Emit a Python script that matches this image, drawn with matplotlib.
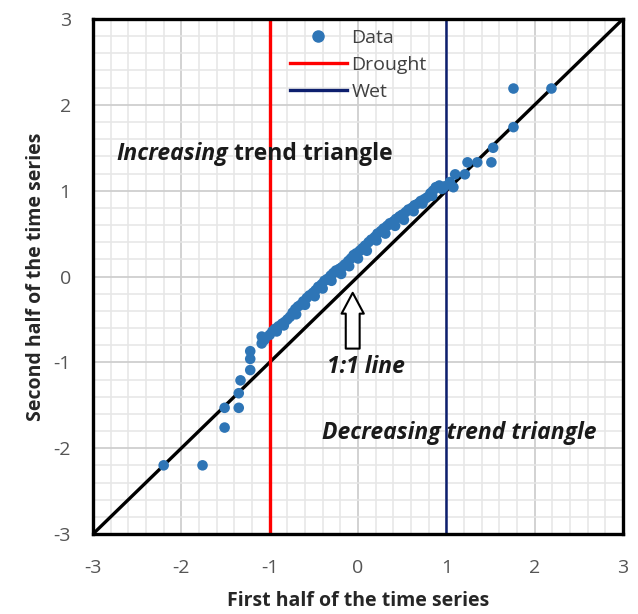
import matplotlib
matplotlib.use('Agg')
import matplotlib.pyplot as plt
from matplotlib.lines import Line2D
from matplotlib.ticker import MultipleLocator

plt.rcParams['font.family'] = ['Open Sans', 'DejaVu Sans']
plt.rcParams['axes.unicode_minus'] = False

# first half (x) vs second half (y) of the series
tail_low_x = [-2.20, -1.76, -1.51, -1.51, -1.35, -1.35, -1.33, -1.22, -1.22, -1.22, -1.09, -1.09, -1.06]
tail_low_y = [-2.20, -2.20, -1.76, -1.53, -1.53, -1.36, -1.21, -1.09, -0.96, -0.87, -0.78, -0.70, -0.74]

band_x = [-1.00, -0.97, -0.94, -0.90, -0.86, -0.83, -0.80, -0.77, -0.74, -0.71,
          -0.68, -0.65, -0.62, -0.58, -0.55, -0.51, -0.48, -0.45, -0.41, -0.38,
          -0.35, -0.31, -0.28, -0.25, -0.21, -0.18, -0.15, -0.11, -0.08, -0.05,
          -0.02, 0.02, 0.05, 0.08, 0.12, 0.15, 0.19, 0.22, 0.26, 0.29,
          0.33, 0.36, 0.40, 0.43, 0.47, 0.50, 0.54, 0.57, 0.61, 0.64,
          0.68, 0.71, 0.75, 0.78, 0.82, 0.85, 0.88, 0.92, 0.95]
band_y = [-0.68, -0.64, -0.61, -0.58, -0.55, -0.53, -0.50, -0.47, -0.42, -0.38,
          -0.35, -0.33, -0.29, -0.25, -0.22, -0.19, -0.16, -0.12, -0.09, -0.05,
          -0.03, 0.01, 0.04, 0.07, 0.09, 0.11, 0.14, 0.18, 0.21, 0.25,
          0.27, 0.30, 0.33, 0.36, 0.40, 0.43, 0.46, 0.50, 0.53, 0.56,
          0.59, 0.62, 0.64, 0.67, 0.70, 0.72, 0.75, 0.78, 0.80, 0.83,
          0.85, 0.88, 0.90, 0.92, 0.97, 1.00, 1.04, 1.06, 1.02]
# points on the lower edge of the band
edge_x = [-0.92, -0.84, -0.70, -0.60, -0.49, -0.40, -0.30, -0.19, -0.10, 0.00,
          0.10, 0.21, 0.31, 0.42, 0.52, 0.63, 0.73, 0.84]
edge_y = [-0.64, -0.57, -0.44, -0.33, -0.23, -0.14, -0.05, 0.03, 0.12, 0.21,
          0.30, 0.42, 0.50, 0.59, 0.66, 0.76, 0.85, 0.94]

tail_high_x = [0.98, 1.04, 1.08, 1.10, 1.21, 1.24, 1.35, 1.51, 1.53, 1.76, 1.76, 2.19]
tail_high_y = [1.05, 1.10, 1.04, 1.19, 1.19, 1.33, 1.33, 1.33, 1.50, 1.74, 2.19, 2.19]

data_x = tail_low_x + band_x + edge_x + tail_high_x
data_y = tail_low_y + band_y + edge_y + tail_high_y

drought_x = -1.0
wet_x = 1.0
ticks = [-3, -2, -1, 0, 1, 2, 3]

fig = plt.figure(figsize=(6.38, 6.14), dpi=100)
ax = fig.add_axes([93 / 638, 80 / 614, 530 / 638, 515 / 614])

ax.set_xlim(-3, 3)
ax.set_ylim(-3, 3)
ax.xaxis.set_minor_locator(MultipleLocator(0.2))
ax.yaxis.set_minor_locator(MultipleLocator(0.2))
ax.grid(which='major', color='#cfcfcf', lw=1.3)
ax.grid(which='minor', color='#e6e6e6', lw=1.1)
ax.set_axisbelow(True)
ax.set_xticks(ticks)
ax.set_yticks(ticks)
ax.tick_params(which='both', length=0, labelsize=14, labelcolor='#555555')
ax.tick_params(axis='x', pad=18)
ax.tick_params(axis='y', pad=16)
for s in ax.spines.values():
    s.set_linewidth(2.4)
    s.set_color('black')

# 1:1 line
ax.plot([-3, 3], [-3, 3], color='black', lw=2.4, zorder=2)
ax.axvline(drought_x, color='#ff0000', lw=2.4, zorder=2)
ax.axvline(wet_x, color='#0d1f6e', lw=1.8, zorder=2)

ax.scatter(data_x, data_y, s=58, color='#2e75b6', edgecolors='none', zorder=3)

fs = 16.5
t1 = ax.text(-2.73, 1.43, 'Increasing', fontsize=fs, fontweight='bold', style='italic',
             color='#1a1a1a', va='center')
ax.annotate(' trend triangle', xy=(1, 0.5), xycoords=t1, fontsize=fs,
            fontweight='bold', color='#1a1a1a', va='center')
ax.text(-0.41, -1.82, 'Decreasing trend triangle', fontsize=fs, fontweight='bold',
        style='italic', color='#1a1a1a', va='center')
ax.text(-0.35, -1.06, '1:1 line', fontsize=fs, fontweight='bold', style='italic',
        color='#1a1a1a', va='center')
ax.annotate('', xy=(-0.06, -0.19), xytext=(-0.06, -0.84),
            arrowprops=dict(arrowstyle='simple,head_width=1.6,head_length=1.5,tail_width=1.0',
                            fc='white', ec='black', lw=1.5, mutation_scale=10,
                            shrinkA=0, shrinkB=0))

handles = [
    Line2D([], [], marker='o', ls='none', color='#2e75b6', markersize=8),
    Line2D([], [], color='#ff0000', lw=2.4),
    Line2D([], [], color='#0d1f6e', lw=2.4),
]
ax.legend(handles, ['Data', 'Drought', 'Wet'], loc='upper left',
          bbox_to_anchor=(0.372, 0.98), frameon=False, fontsize=14,
          handlelength=2.9, handletextpad=0.25, labelspacing=0.45,
          borderpad=0, borderaxespad=0, labelcolor='#404040')

ax.set_xlabel('First half of the time series', fontsize=14, fontweight='bold',
              color='#262626', labelpad=10)
ax.set_ylabel('Second half of the time series', fontsize=14, fontweight='bold',
              color='#262626', labelpad=5)

fig.savefig('out.png', dpi=100)
